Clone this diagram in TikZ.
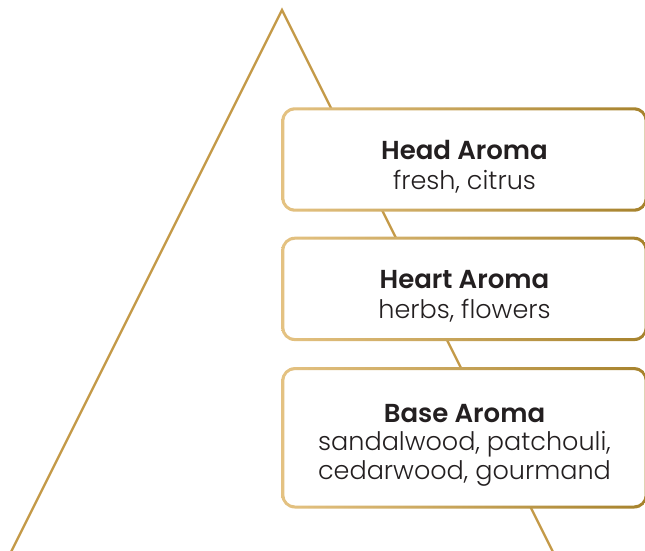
\documentclass[tikz,border=0pt]{standalone}
\usepackage{fontspec}
\setmainfont{Poppins}[UprightFont=* Light, BoldFont=* SemiBold]
\usetikzlibrary{positioning}
\definecolor{pyrgold}{RGB}{196,154,72}
\definecolor{pyrlight}{RGB}{228,194,130}
\definecolor{pyrdark}{RGB}{166,130,44}
\definecolor{pyrtext}{RGB}{35,31,32}
\newcommand{\aromahead}[1]{\rule{0pt}{33pt}{\bfseries\fontsize{26}{30}\selectfont #1}}
\tikzstyle{aroma} = [rectangle, rounded corners=12pt, minimum width=363pt, fill=white, text=pyrtext, align=center, font=\fontsize{25.5}{30}\selectfont, inner sep=0pt]
\tikzstyle{pyramid} = [line width=2.4pt, color=pyrgold]
\tikzstyle{rim} = [left color=pyrlight, right color=pyrdark, even odd rule]

\begin{document}
\begin{tikzpicture}[x=1pt,y=-1pt]
\useasboundingbox (0,0) rectangle (645,551);
\clip (0,0) rectangle (645,551);
% pyramid outline
\coordinate (apex) at (282,10);
\coordinate (lfoot) at (6,562);
\coordinate (rfoot) at (558,562);
\draw[pyramid] (lfoot) -- (apex) -- (rfoot);
% aroma layers
\node (head) [aroma, minimum height=101pt] at (464.5,159.5) {\aromahead{Head Aroma}\\fresh, citrus};
\node (heart) [aroma, minimum height=101pt, below=28pt of head] {\aromahead{Heart Aroma}\\herbs, flowers};
\node (base) [aroma, minimum height=138pt, below=29pt of heart, font=\fontsize{25.5}{28.5}\selectfont] {\aromahead{Base Aroma}\\sandalwood, patchouli,\\cedarwood, gourmand};
\foreach \n in {head,heart,base}
  \shade[rim] [rounded corners=13.5pt] ([shift={(-1.5pt,-1.5pt)}]\n.south west) rectangle ([shift={(1.5pt,1.5pt)}]\n.north east)
    [rounded corners=10.5pt] ([shift={(1.5pt,1.5pt)}]\n.south west) rectangle ([shift={(-1.5pt,-1.5pt)}]\n.north east);
\end{tikzpicture}
\end{document}
